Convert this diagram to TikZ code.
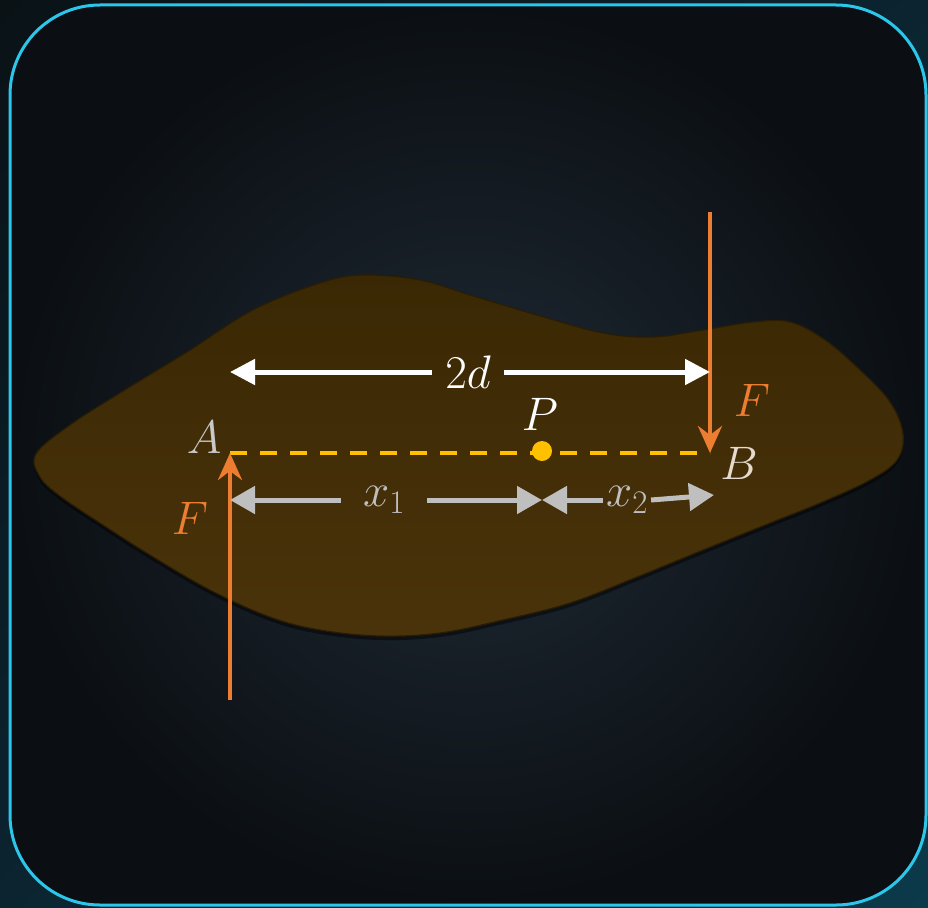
\documentclass[tikz,border=0pt]{standalone}
\usepackage{fix-cm}
\usetikzlibrary{arrows.meta,positioning,shadings}
\definecolor{panelcyan}{HTML}{2BC6EA}
\definecolor{panelmid}{HTML}{1F2A35}
\definecolor{paneledge}{HTML}{0B0F13}
\definecolor{bodytop}{HTML}{3A2804}
\definecolor{bodybottom}{HTML}{4A330A}
\definecolor{bodyrim}{HTML}{2A1D04}
\definecolor{forceorange}{HTML}{ED7D31}
\definecolor{lineyellow}{HTML}{FFC000}
\definecolor{partgrey}{HTML}{BFBFBF}
\definecolor{pointgrey}{HTML}{C9C9C9}
\definecolor{pointbeige}{HTML}{E6DACF}
\definecolor{backdark}{HTML}{0A1216}
\definecolor{backteal}{HTML}{0B3A4A}
\definecolor{backmid}{HTML}{0B2430}

\tikzset{
  lbl/.style={font=\fontsize{47}{50}\selectfont,inner sep=0pt},
  force/.style={draw=forceorange,line width=4pt,-{Stealth[length=27pt,width=24pt,inset=9pt]}},
  span/.style={draw=white,line width=5pt,-{Triangle[length=25pt,width=25pt]}},
  part/.style={draw=partgrey,line width=5pt,-{Triangle[length=25pt,width=27pt]}},
  armline/.style={draw=lineyellow,line width=4pt,dash pattern=on 17pt off 13pt}
}
% outline of the plate, in pixels
\newcommand{\plate}{plot[smooth cycle,tension=0.6] coordinates {
  (36,454) (70,425) (120,393) (187,352) (253,310) (320,283) (363,275)
  (420,280) (470,295) (537,315) (603,333) (653,337) (703,330) (753,322)
  (790,322) (825,340) (860,370) (890,402) (903,434) (897,460) (870,480)
  (820,503) (770,523) (703,550) (637,577) (570,603) (503,620) (440,633)
  (380,636) (320,630) (270,617) (210,590) (150,555) (100,523) (60,496) (40,477)}}

\begin{document}
\begin{tikzpicture}[x=1pt,y=-1pt]
\useasboundingbox (0,0) rectangle (928,907);
% backdrop and panel
\shade[upper left=backdark,upper right=backmid,lower left=backmid,lower right=backteal]
  (0,0) rectangle (928,907);
\shade[inner color=panelmid,outer color=paneledge,rounded corners=90pt] (10,5) rectangle (926,905);
\draw[panelcyan,line width=3pt,rounded corners=90pt] (10,5) rectangle (926,905);

% plate
\begin{scope}[yshift=-4pt]
  \fill[black,opacity=0.45] \plate;
\end{scope}
\shade[top color=bodytop,bottom color=bodybottom,draw=bodyrim,line width=1.2pt] \plate;

% points
\coordinate (A) at (230,453);
\coordinate (B) at (710,453);
\coordinate (P) at (542,451);
\coordinate (Ftop) at (710,212);
\coordinate (Fbot) at (230,700);
\coordinate (x2end) at (714,495);

\draw[armline] (A) -- (B);
\fill[lineyellow] (P) circle (10pt);

\node[lbl,text=pointgrey] (Alabel) at (204,437) {$A$};
\node[lbl,text=pointbeige] (Blabel) at (739,463) {$B$};
\node[lbl,text=white] (Plabel) at (540,414) {$P$};
\node[lbl,text=forceorange] (Fright) at (752,400) {$F$};
\node[lbl,text=forceorange] (Fleft) at (190,518) {$F$};

% forces
\draw[force] (Ftop) -- (B);
\draw[force] (Fbot) -- (A);

% distances
\node[lbl,text=white,inner xsep=13pt] (d2) at (468,372) {$2d$};
\draw[span] (d2.west) -- (A |- d2.west);
\draw[span] (d2.east) -- (B |- d2.east);

\node[lbl,text=partgrey,inner xsep=22pt] (x1) at (384,500) {$x_1$};
\draw[part] (x1.west) -- (A |- x1.west);
\draw[part] (x1.east) -- (P |- x1.east);

\node[lbl,text=partgrey,inner xsep=3pt] (x2) at (627,500) {$x_2$};
\draw[part] (x2.west) -- (P |- x2.west);
\draw[part] (x2.east) -- (x2end);
\end{tikzpicture}
\end{document}
